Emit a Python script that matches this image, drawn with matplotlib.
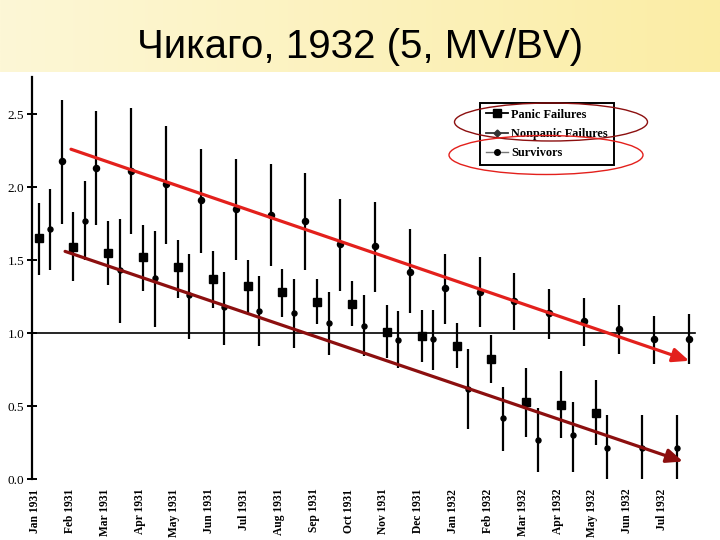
import numpy as np
import matplotlib
matplotlib.use('Agg')
import matplotlib.pyplot as plt
from matplotlib.lines import Line2D
from matplotlib.patches import Ellipse

# ── Data ───────────────────────────────────────────────
months = ['Jan 1931', 'Feb 1931', 'Mar 1931', 'Apr 1931', 'May 1931', 'Jun 1931',
          'Jul 1931', 'Aug 1931', 'Sep 1931', 'Oct 1931', 'Nov 1931', 'Dec 1931',
          'Jan 1932', 'Feb 1932', 'Mar 1932', 'Apr 1932', 'May 1932', 'Jun 1932',
          'Jul 1932']

panic    = [1.65, 1.59, 1.55, 1.52, 1.45, 1.37, 1.32, 1.28, 1.21, 1.20, 1.01, 0.98,
            0.91, 0.82, 0.53, 0.51, 0.45]
panic_lo = [1.40, 1.36, 1.33, 1.29, 1.24, 1.17, 1.14, 1.11, 1.06, 1.05, 0.83, 0.80,
            0.76, 0.66, 0.29, 0.28, 0.23]
panic_hi = [1.89, 1.83, 1.77, 1.74, 1.64, 1.56, 1.50, 1.44, 1.37, 1.36, 1.19, 1.16,
            1.07, 0.99, 0.76, 0.74, 0.68]

nonpanic    = [1.71, 1.77, 1.43, 1.38, 1.26, 1.18, 1.15, 1.14, 1.07, 1.05, 0.95, 0.96,
               0.62, 0.42, 0.27, 0.30, 0.21, 0.21, 0.21]
nonpanic_lo = [1.43, 1.50, 1.07, 1.04, 0.96, 0.92, 0.91, 0.90, 0.85, 0.84, 0.76, 0.75,
               0.34, 0.19, 0.05, 0.05, 0.00, 0.00, 0.00]
nonpanic_hi = [1.99, 2.04, 1.78, 1.70, 1.54, 1.42, 1.39, 1.37, 1.28, 1.26, 1.15, 1.16,
               0.89, 0.63, 0.49, 0.53, 0.44, 0.44, 0.44]

survivors = [2.18, 2.13, 2.11, 2.02, 1.91, 1.85, 1.81, 1.77, 1.61, 1.60, 1.42, 1.31,
             1.28, 1.22, 1.14, 1.08, 1.03, 0.96, 0.96]
surv_lo   = [1.75, 1.74, 1.68, 1.61, 1.55, 1.50, 1.46, 1.43, 1.29, 1.28, 1.14, 1.06,
             1.04, 1.02, 0.96, 0.91, 0.86, 0.79, 0.79]
surv_hi   = [2.60, 2.52, 2.54, 2.42, 2.26, 2.19, 2.16, 2.10, 1.92, 1.90, 1.71, 1.54,
             1.52, 1.41, 1.30, 1.24, 1.19, 1.12, 1.13]

# hand-drawn trend arrows (month index, value)
upper_trend = [(1.03, 2.26), (18.78, 0.81)]
lower_trend = [(0.86, 1.56), (18.60, 0.12)]

yticks = [0.0, 0.5, 1.0, 1.5, 2.0, 2.5]

# ── Style ──────────────────────────────────────────────
SERIF = ['Liberation Serif', 'DejaVu Serif']
TITLE_FONT = ['Liberation Sans', 'DejaVu Sans']
RED = '#e3201c'
DARK_RED = '#8c0f0f'

fig = plt.figure(figsize=(7.2, 5.4), dpi=100)
fig.patch.set_facecolor('white')

# yellow title band
band = fig.add_axes([0, 1 - 72 / 540, 1, 72 / 540])
grad = np.linspace(0, 1, 256)
c0 = np.array([253, 247, 214]) / 255
c1 = np.array([251, 237, 165]) / 255
img = c0[None, :] * (1 - grad[:, None]) + c1[None, :] * grad[:, None]
band.imshow(img[None, :, :], aspect='auto', extent=[0, 1, 0, 1])
band.set_axis_off()
fig.text(0.5, 0.913, 'Чикаго, 1932 (5, MV/BV)', ha='center', va='center',
         fontsize=29, family=TITLE_FONT, color='black')

# ── Main chart ─────────────────────────────────────────
ax = fig.add_axes([32 / 720, 61 / 540, 668 / 720, 402 / 540])
ax.set_xlim(-0.09, 19.09)
ax.set_ylim(0, 2.755)

x = np.arange(len(months))
xp = x[:len(panic)] + 0.10
xn = x + 0.43
xs = x + 0.76

def draw(xv, yv, lo, hi, marker, ms):
    yv = np.array(yv)
    err = [yv - np.array(lo), np.array(hi) - yv]
    ax.errorbar(xv, yv, yerr=err, fmt=marker, color='black', ms=ms,
                elinewidth=1.6, capsize=0, zorder=3)

draw(xp, panic, panic_lo, panic_hi, 's', 6)
draw(xn, nonpanic, nonpanic_lo, nonpanic_hi, 'o', 3.6)
draw(xs, survivors, surv_lo, surv_hi, 'o', 4.4)

ax.plot([-0.09, 18.95], [1.0, 1.0], color='black', lw=1.2, zorder=2)

for trend, col in [(upper_trend, RED), (lower_trend, DARK_RED)]:
    ax.annotate('', xy=trend[1], xytext=trend[0],
                arrowprops=dict(arrowstyle='-|>,head_length=0.7,head_width=0.3',
                                color=col, lw=2.3, mutation_scale=14,
                                shrinkA=0, shrinkB=0), zorder=4)

for s in ['top', 'right', 'bottom']:
    ax.spines[s].set_visible(False)
ax.spines['left'].set_linewidth(1.6)

ax.set_yticks(yticks)
ax.set_yticklabels([f'{t:.1f}' for t in yticks], family=SERIF, fontsize=9.5)
ax.tick_params(axis='y', direction='inout', length=7, width=1.4, pad=2)
ax.set_xticks(x)
ax.set_xticklabels(months, rotation=90, family=SERIF, fontsize=8.3,
                   fontweight='bold', va='top')
ax.tick_params(axis='x', length=0, pad=7)

handles = [
    Line2D([], [], color='black', marker='s', ms=6, lw=1.3),
    Line2D([], [], color='#333333', marker='D', ms=3.5, lw=1.3),
    Line2D([], [], color='#777777', marker='o', ms=4, lw=1.0, mfc='black', mec='black'),
]
leg = ax.legend(handles, ['Panic Failures', 'Nonpanic Failures', 'Survivors'],
                loc='upper left', bbox_to_anchor=(0.671, 0.935), borderaxespad=0,
                prop={'family': SERIF, 'size': 8.8, 'weight': 'bold'},
                handlelength=1.8, handletextpad=0.3, labelspacing=0.6,
                borderpad=0.45, fancybox=False, framealpha=1)
leg.get_frame().set_edgecolor('black')
leg.get_frame().set_linewidth(1.4)

# red ellipses marked over the legend
fig.add_artist(Ellipse((5.51, 5.40 - 1.22), 1.93, 0.38, fill=False,
                       ec=DARK_RED, lw=1.0, transform=fig.dpi_scale_trans))
fig.add_artist(Ellipse((5.46, 5.40 - 1.55), 1.94, 0.39, fill=False,
                       ec=RED, lw=1.0, transform=fig.dpi_scale_trans))

fig.savefig('out.png', dpi=100)
